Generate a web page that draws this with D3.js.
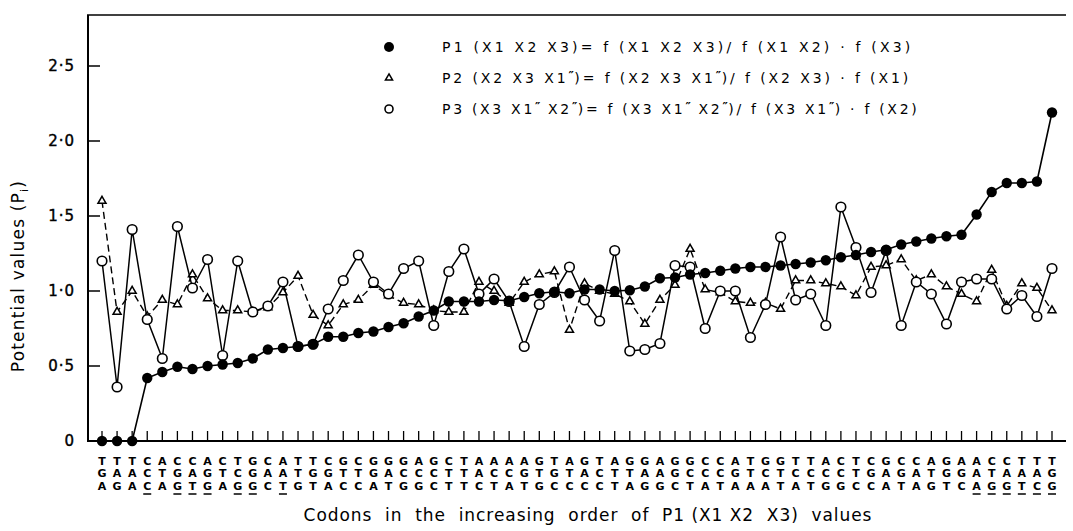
<!DOCTYPE html>
<html><head><meta charset="utf-8">
<script src="https://cdn.jsdelivr.net/npm/d3@7"></script>
<style>
body{margin:0;background:#fff;}
svg text{font-family:"DejaVu Sans",sans-serif;fill:#000;white-space:pre;}
</style></head>
<body><svg id="c" width="1073" height="531"></svg>
<script>
const codons = ["TGA","TAG","TAA","CCC","ATA","CGG","CAT","AGG","CTA","TCG",
"GGG","CAC","AAT","TTG","TGT","CGA","GTC","CTC","GGA","GAT",
"GCG","ACG","GCC","CTT","TTT","AAC","ACT","ACA","AGT","GTG",
"TGC","ATC","GAC","TCC","ATT","GTA","GAG","AAG","GGC","GCT",
"CCA","CCT","AGA","TTA","GCA","GTT","TCA","TCT","ACG","CCG",
"TTC","CGC","GAA","CGT","CAA","ATG","GGT","AGC","AAA","CTG",
"CAG","TAT","TAC","TGG"];
const underlined = [3,5,6,7,9,10,12,58,59,60,61,62,63];
const P1 = [0,0,0,0.42,0.46,0.495,0.48,0.50,0.51,0.52,0.55,0.61,0.62,0.63,0.645,0.695,0.695,0.72,0.73,0.76,0.785,0.83,0.87,0.93,0.93,0.93,0.94,0.935,0.96,0.985,0.995,0.985,1.01,1.01,1.0,1.005,1.03,1.085,1.09,1.11,1.12,1.135,1.15,1.16,1.16,1.17,1.18,1.19,1.205,1.225,1.24,1.26,1.275,1.31,1.33,1.35,1.365,1.375,1.51,1.66,1.72,1.72,1.73,2.19];
const P2 = [1.6,0.86,1.0,0.83,0.94,0.91,1.11,0.95,0.87,0.87,0.86,0.89,0.99,1.1,0.84,0.77,0.91,0.94,1.04,0.97,0.92,0.91,0.87,0.86,0.86,1.06,1.0,0.92,1.06,1.11,1.13,0.74,1.05,1.0,0.98,0.93,0.78,0.94,1.04,1.28,1.01,0.99,0.93,0.92,0.92,0.88,1.07,1.07,1.05,1.03,0.97,1.16,1.17,1.21,1.07,1.11,1.03,0.98,0.93,1.14,0.9,1.05,1.02,0.87];
const P3 = [1.2,0.36,1.41,0.81,0.55,1.43,1.02,1.21,0.57,1.2,0.86,0.9,1.06,0.63,0.645,0.88,1.07,1.24,1.06,0.98,1.15,1.2,0.77,1.13,1.28,0.98,1.08,0.93,0.63,0.91,0.99,1.16,0.94,0.8,1.27,0.6,0.61,0.65,1.17,1.16,0.75,1.0,1.0,0.69,0.91,1.36,0.94,0.98,0.77,1.56,1.29,0.99,1.27,0.77,1.06,0.98,0.78,1.06,1.08,1.08,0.88,0.97,0.83,1.15];
const yTicks = [0,0.5,1,1.5,2,2.5];
const yTickLabels = ["0","0·5","1·0","1·5","2·0","2·5"];
const legendLabels = [
 "P1 (X1 X2 X3)= f (X1 X2 X3)/ f (X1 X2) · f (X3)",
 "P2 (X2 X3 X1\u2033)= f (X2 X3 X1\u2033)/ f (X2 X3) · f (X1)",
 "P3 (X3 X1\u2033 X2\u2033)= f (X3 X1\u2033 X2\u2033)/ f (X3 X1\u2033) · f (X2)"
];
const legendSpacing = [3.2, 2.9, 2.7];
const yTitle = "Potential values (P";
const xTitle = "Codons  in  the  increasing  order  of  P1 (X1 X2  X3)  values";

const svg = d3.select("#c");
const x = d3.scaleLinear().domain([0, codons.length-1]).range([102, 1052]);
const y = d3.scaleLinear().domain([0, 2.84]).range([441, 15]);
const idx = d3.range(codons.length);

// axes
const g = svg.append("g");
g.append("line").attr("x1",88).attr("x2",88).attr("y1",y(2.84)).attr("y2",y(0)).attr("stroke","#000").attr("stroke-width",2);
g.append("line").attr("x1",87).attr("x2",1066).attr("y1",y(0)).attr("y2",y(0)).attr("stroke","#000").attr("stroke-width",2);
g.append("line").attr("x1",87).attr("x2",1066).attr("y1",y(2.84)).attr("y2",y(2.84)).attr("stroke","#000").attr("stroke-width",1.5);
yTicks.forEach((t,i)=>{
  if(t>0) g.append("line").attr("x1",88).attr("x2",100).attr("y1",y(t)).attr("y2",y(t)).attr("stroke","#000").attr("stroke-width",1.5);
  g.append("text").attr("x",75).attr("y",y(t)).attr("dy","0.36em").attr("text-anchor","end")
   .attr("font-size",15).attr("letter-spacing",1).attr("stroke","#000").attr("stroke-width",0.4).text(yTickLabels[i]);
});
idx.forEach(i=>{
  g.append("line").attr("x1",x(i)).attr("x2",x(i)).attr("y1",y(0)).attr("y2",y(0)-10).attr("stroke","#000").attr("stroke-width",1.3);
});
// codon letters
const rowY = [461, 473, 486];
idx.forEach(i=>{
  for(let r=0;r<3;r++){
    g.append("text").attr("x",x(i)).attr("y",rowY[r]).attr("dy","0.36em").attr("text-anchor","middle")
     .attr("font-size",11).attr("font-weight","bold").text(codons[i][r]);
  }
});
underlined.forEach(i=>{
  g.append("line").attr("x1",x(i)-4).attr("x2",x(i)+4).attr("y1",494).attr("y2",494).attr("stroke","#000").attr("stroke-width",1.5);
});
// titles
const yt = svg.append("text").attr("transform","translate(24,276) rotate(-90)").attr("text-anchor","middle").attr("font-size",17).attr("letter-spacing",1.2);
yt.append("tspan").text(yTitle);
yt.append("tspan").attr("font-size",11).attr("dy",4).text("i");
yt.append("tspan").attr("dy",-4).text(")");
svg.append("text").attr("x",588).attr("y",521).attr("text-anchor","middle").attr("font-size",17).attr("letter-spacing",0.95).text(xTitle);

// lines
const line = d3.line().x((d,i)=>x(i)).y(d=>y(d));
svg.append("path").datum(P2).attr("d",line).attr("fill","none").attr("stroke","#000").attr("stroke-width",1.4).attr("stroke-dasharray","7,4");
svg.append("path").datum(P3).attr("d",line).attr("fill","none").attr("stroke","#000").attr("stroke-width",1.5);
svg.append("path").datum(P1).attr("d",line).attr("fill","none").attr("stroke","#000").attr("stroke-width",1.6);

const tri = d3.symbol().type(d3.symbolTriangle).size(28);
svg.append("g").selectAll("path").data(P2).join("path").attr("d",tri)
  .attr("transform",(d,i)=>`translate(${x(i)},${y(d)})`).attr("fill","#fff").attr("stroke","#000").attr("stroke-width",1.5);
svg.append("g").selectAll("circle").data(P3).join("circle").attr("cx",(d,i)=>x(i)).attr("cy",d=>y(d)).attr("r",4.8)
  .attr("fill","#fff").attr("stroke","#000").attr("stroke-width",1.6);
svg.append("g").selectAll("circle").data(P1).join("circle").attr("cx",(d,i)=>x(i)).attr("cy",d=>y(d)).attr("r",5.2)
  .attr("fill","#000");

// legend
const legY = [47, 78, 109];
const lg = svg.append("g");
lg.append("circle").attr("cx",389).attr("cy",legY[0]).attr("r",5).attr("fill","#000");
lg.append("path").attr("d",d3.symbol().type(d3.symbolTriangle).size(22)).attr("transform",`translate(389,${legY[1]})`).attr("fill","#fff").attr("stroke","#000").attr("stroke-width",1.5);
lg.append("circle").attr("cx",389).attr("cy",legY[2]).attr("r",4).attr("fill","#fff").attr("stroke","#000").attr("stroke-width",1.6);
legendLabels.forEach((t,i)=>{
  const tx = lg.append("text").attr("x",442).attr("y",legY[i]).attr("dy","0.36em").attr("font-size",14).attr("letter-spacing",legendSpacing[i]);
  t.split(/(\u2033)/).forEach(part=>{
    if(part==="\u2033") tx.append("tspan").attr("font-size",12).attr("font-weight","bold").attr("letter-spacing",0.5).attr("baseline-shift","25%").text(part);
    else if(part) tx.append("tspan").text(part);
  });
});
</script></body></html>
